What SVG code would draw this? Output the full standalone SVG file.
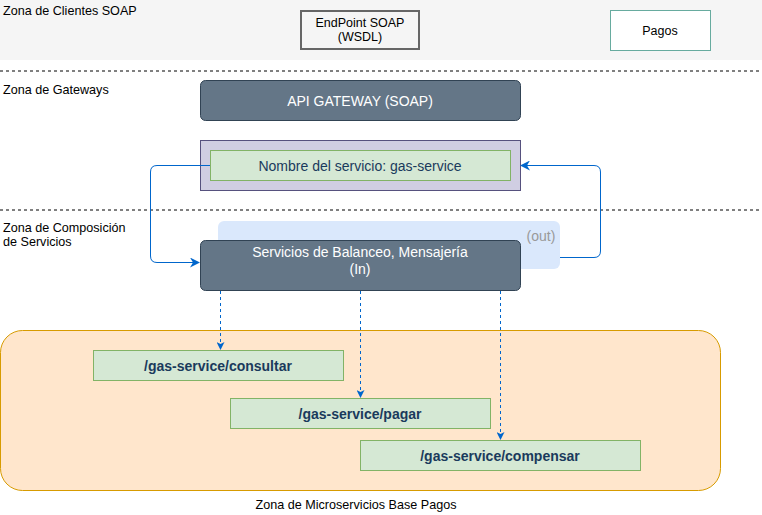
<svg xmlns="http://www.w3.org/2000/svg" width="762" height="515" viewBox="0 0 762 515">
<style>
text{font-family:"Liberation Sans",Arial,sans-serif}
.zl{font-size:12.6px;fill:#000}
.dash{stroke:#000;stroke-width:1;stroke-dasharray:3,3;fill:none}
.dark{fill:#647687;stroke:#314354;stroke-width:1}
.wt{fill:#fff;font-size:14px;text-anchor:middle}
.gr{fill:#d5e8d4;stroke:#82b366;stroke-width:1}
.bt{fill:#1a3a5c;font-size:14px;font-weight:bold;text-anchor:middle}
.conn{stroke:#0066cc;stroke-width:1;fill:none}
.dconn{stroke:#0066cc;stroke-width:1;fill:none;stroke-dasharray:3,3}
</style>
<defs>
<marker id="ah" markerWidth="10" markerHeight="10" refX="9" refY="5" orient="auto" markerUnits="userSpaceOnUse">
<path d="M0,0 L10,5 L0,10 L3,5 Z" fill="#0066cc"/>
</marker>
<marker id="ahs" markerWidth="8" markerHeight="8" refX="7" refY="4" orient="auto" markerUnits="userSpaceOnUse">
<path d="M0,0 L8,4 L0,8 L2,4 Z" fill="#0066cc"/>
</marker>
</defs>
<rect width="762" height="515" fill="#fff"/>
<g id="zona-clientes">
<rect x="0" y="0" width="762" height="60" fill="#f5f5f5"/>
<text class="zl" x="3" y="15">Zona de Clientes SOAP</text>
</g>
<line class="dash" x1="0" y1="71" x2="762" y2="71"/>
<line class="dash" x1="0" y1="210" x2="762" y2="210"/>
<g id="zona-gateways"><text class="zl" x="3" y="94">Zona de Gateways</text></g>
<g id="zona-composicion"><text class="zl" x="3" y="232">Zona de Composición</text><text class="zl" x="3" y="246">de Servicios</text></g>
<g id="endpoint">
<rect x="301" y="11" width="118" height="38" fill="#f5f5f5" stroke="#666" stroke-width="2"/>
<text x="360" y="27" font-size="12.5" text-anchor="middle">EndPoint SOAP</text>
<text x="360" y="41" font-size="12.5" text-anchor="middle">(WSDL)</text>
</g>
<g id="pagos">
<rect x="610.500" y="10.500" width="100" height="40" fill="#fff" stroke="#67ab9f"/>
<text x="660" y="35" font-size="12.5" text-anchor="middle">Pagos</text>
</g>
<g id="api-gateway">
<rect class="dark" x="200.500" y="80.500" width="320" height="40" rx="5"/>
<text class="wt" x="360" y="106">API GATEWAY (SOAP)</text>
</g>
<g id="servicio">
<rect x="200.500" y="140.500" width="320" height="50" fill="#d0cee2" stroke="#56517e"/>
<rect class="gr" x="210.500" y="150.500" width="300" height="30"/>
<text x="360" y="171" font-size="14" fill="#1a3a5c" text-anchor="middle">Nombre del servicio: gas-service</text>
</g>
<g id="out-box">
<rect x="218" y="221" width="342" height="48" rx="6" fill="#dae8fc"/>
<text x="541" y="241" font-size="14" fill="#999" text-anchor="middle">(out)</text>
</g>
<g id="balanceo">
<rect class="dark" x="200.500" y="240.500" width="320" height="50" rx="5"/>
<text class="wt" x="360" y="257">Servicios de Balanceo, Mensajería</text>
<text class="wt" x="360" y="274">(In)</text>
</g>
<g id="zona-microservicios">
<rect x="0.500" y="330.500" width="720" height="160" rx="22" fill="#ffe6cc" stroke="#d79b00"/>
<text x="356" y="509" font-size="12.6" text-anchor="middle">Zona de Microservicios Base Pagos</text>
</g>
<g id="consultar">
<rect class="gr" x="93.500" y="350.500" width="250" height="30"/>
<text class="bt" x="218" y="371">/gas-service/consultar</text>
</g>
<g id="pagar">
<rect class="gr" x="230.500" y="398.500" width="260" height="30"/>
<text class="bt" x="360" y="419">/gas-service/pagar</text>
</g>
<g id="compensar">
<rect class="gr" x="360.500" y="440.500" width="280" height="30"/>
<text class="bt" x="500" y="461">/gas-service/compensar</text>
</g>
<g id="connectors">
<path class="conn" d="M210,165.500 H157 Q150.500,165.500 150.500,172 V256 Q150.500,262.500 157,262.500 H199" marker-end="url(#ah)"/>
<path class="conn" d="M560,257.500 H594 Q600.500,257.500 600.500,251 V172 Q600.500,165.500 594,165.500 H521" marker-end="url(#ah)"/>
<path class="dconn" d="M220.500,291 V349" marker-end="url(#ahs)"/>
<path class="dconn" d="M360.500,291 V397" marker-end="url(#ahs)"/>
<path class="dconn" d="M500.500,291 V439" marker-end="url(#ahs)"/>
</g>
</svg>
